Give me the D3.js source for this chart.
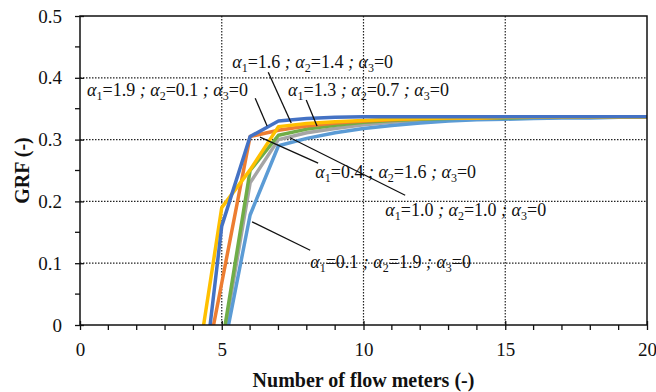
<!DOCTYPE html>
<html>
<head>
<meta charset="utf-8">
<script src="https://cdn.jsdelivr.net/npm/d3@7/dist/d3.min.js"></script>
<style>
    html, body { margin: 0; padding: 0; background: #fff; }
    svg { display: block; }
    text { font-family: "Liberation Serif", "Times New Roman", serif; fill: #111; }
</style>
</head>
<body>
<svg id="chart" width="656" height="392"></svg>
<script>

// number of flow meters (x); null = no point
var meters = [4, 5, 6, 7, 8, 9, 10, 11, 12, 13, 14, 15, 16, 17, 18, 19, 20];

var grfA19 = [-0.230, 0.160, 0.305, 0.330, 0.334, 0.336, 0.337, 0.337, 0.337, 0.337, 0.337, 0.337, 0.337, 0.337, 0.337, 0.337, 0.337];
var grfA04 = [-0.168, 0.068, 0.305, 0.315, 0.322, 0.327, 0.330, 0.332, 0.334, 0.335, 0.335, 0.336, 0.336, 0.336, 0.336, 0.336, 0.336];
var grfA10 = [null, -0.040, 0.230, 0.300, 0.311, 0.318, 0.324, 0.328, 0.331, 0.333, 0.334, 0.335, 0.335, 0.336, 0.336, 0.336, 0.336];
var grfA16 = [-0.107, 0.190, 0.251, 0.321, 0.326, 0.329, 0.331, 0.333, 0.334, 0.335, 0.335, 0.336, 0.336, 0.336, 0.336, 0.336, 0.336];
var grfA01 = [null, -0.056, 0.178, 0.290, 0.302, 0.311, 0.318, 0.323, 0.327, 0.330, 0.332, 0.333, 0.334, 0.335, 0.335, 0.336, 0.336];
var grfA13 = [null, -0.034, 0.250, 0.307, 0.317, 0.323, 0.328, 0.331, 0.333, 0.334, 0.335, 0.335, 0.336, 0.336, 0.336, 0.336, 0.336];

var alpha1 = ["1.9", "0.4", "1.0", "1.6", "0.1", "1.3"];
var alpha2 = ["0.1", "1.6", "1.0", "1.4", "1.9", "0.7"];
var alpha3 = ["0", "0", "0", "0", "0", "0"];

var xTicks = [0, 5, 10, 15, 20];
var yTicks = [0, 0.1, 0.2, 0.3, 0.4, 0.5];

(function () {

    var margin = { left: 80, right: 9, top: 16, bottom: 67 },
        W = 656, H = 392,
        w = W - margin.left - margin.right,
        h = H - margin.top - margin.bottom;

    var colors = ["#4472C4", "#ED7D31", "#A5A5A5", "#FFC000", "#5B9BD5", "#70AD47"];

    var series = [grfA19, grfA04, grfA10, grfA16, grfA01, grfA13].map(function (vals, i) {
        return {
            color: colors[i],
            a1: alpha1[i], a2: alpha2[i], a3: alpha3[i],
            values: vals.map(function (v, j) { return { x: meters[j], y: v }; })
        };
    });

    // label anchor + leader in data units (x meters, y GRF)
    var notes = [
        { s: 0, tx: 0.25, ty: 0.370, l: [6.18, 0.367, 6.60, 0.322] },
        { s: 3, tx: 5.37, ty: 0.416, l: [6.64, 0.409, 7.45, 0.327] },
        { s: 5, tx: 7.34, ty: 0.370, l: [7.98, 0.364, 8.36, 0.322] },
        { s: 1, tx: 8.30, ty: 0.238, l: [6.35, 0.304, 8.40, 0.262] },
        { s: 2, tx: 10.77, ty: 0.176, l: [7.41, 0.303, 11.47, 0.210] },
        { s: 4, tx: 8.12, ty: 0.092, l: [6.07, 0.167, 8.12, 0.121] }
    ];

    var svg = d3.select("#chart");

    var x = d3.scaleLinear().domain([0, 20]).range([0, w]);
    var y = d3.scaleLinear().domain([0, 0.5]).range([h, 0]);

    var g = svg.append("g")
        .attr("transform", "translate(" + margin.left + "," + margin.top + ")");

    g.append("clipPath").attr("id", "plot")
        .append("rect").attr("width", w).attr("height", h);

    // dotted grid
    g.append("g")
        .selectAll("line.gx")
        .data(xTicks.slice(1, -1))
        .enter().append("line")
        .attr("x1", x).attr("x2", x)
        .attr("y1", 0).attr("y2", h)
        .attr("stroke", "#222").attr("stroke-width", 1.2)
        .attr("stroke-dasharray", "1.5,1.5");

    g.append("g")
        .selectAll("line.gy")
        .data(yTicks.slice(1, -1))
        .enter().append("line")
        .attr("x1", 0).attr("x2", w)
        .attr("y1", y).attr("y2", y)
        .attr("stroke", "#222").attr("stroke-width", 1.2)
        .attr("stroke-dasharray", "1.5,1.5");

    // curves
    var line = d3.line()
        .defined(function (d) { return d.y !== null; })
        .x(function (d) { return x(d.x); })
        .y(function (d) { return y(d.y); });

    g.append("g")
        .attr("clip-path", "url(#plot)")
        .selectAll("path")
        .data([series[2], series[4], series[5], series[1], series[3], series[0]])
        .enter().append("path")
        .attr("d", function (d) { return line(d.values); })
        .attr("fill", "none")
        .attr("stroke", function (d) { return d.color; })
        .attr("stroke-width", 3.5)
        .attr("stroke-linejoin", "round");

    // frame
    g.append("rect")
        .attr("width", w).attr("height", h)
        .attr("fill", "none").attr("stroke", "#111").attr("stroke-width", 1.5);

    // axes
    var yAxis = d3.axisLeft(y).tickValues(yTicks).tickSize(6).tickPadding(12)
        .tickFormat(function (d) { return d === 0 ? "0" : d3.format(".1f")(d); });

    var xAxis = d3.axisBottom(x).tickValues(xTicks).tickSize(6).tickPadding(12);

    var ya = g.append("g").call(yAxis);
    var xa = g.append("g").attr("transform", "translate(0," + h + ")").call(xAxis);

    [ya, xa].forEach(function (a) {
        a.select(".domain").remove();
        a.selectAll("line").attr("stroke", "#111").attr("stroke-width", 1.3);
        a.selectAll("text")
            .style("font-family", "'Liberation Serif', serif")
            .style("font-size", "19px")
            .attr("fill", "#111");
    });

    // inner part of major ticks
    ya.selectAll(".tick line").attr("x2", -5).attr("x1", 4);
    xa.selectAll(".tick line").attr("y2", 5).attr("y1", -4);

    // minor ticks
    g.append("g")
        .selectAll("line")
        .data(d3.range(0.05, 0.5, 0.1))
        .enter().append("line")
        .attr("x1", -5).attr("x2", 0)
        .attr("y1", y).attr("y2", y)
        .attr("stroke", "#111").attr("stroke-width", 1.3);

    g.append("g")
        .selectAll("line")
        .data(d3.range(1, 20).filter(function (v) { return v % 5 !== 0; }))
        .enter().append("line")
        .attr("y1", h).attr("y2", h + 5)
        .attr("x1", x).attr("x2", x)
        .attr("stroke", "#111").attr("stroke-width", 1.3);

    // titles
    g.append("text")
        .attr("x", w / 2).attr("y", h + 62)
        .attr("text-anchor", "middle")
        .style("font-size", "20px").style("font-weight", "bold")
        .text("Number of flow meters (-)");

    g.append("text")
        .attr("transform", "translate(" + (-51) + "," + (h / 2) + ") rotate(-90)")
        .attr("text-anchor", "middle")
        .style("font-size", "20px").style("font-weight", "bold")
        .text("GRF (-)");

    // annotations
    var ann = g.append("g");

    notes.forEach(function (n) {

        var s = series[n.s];

        ann.append("line")
            .attr("x1", x(n.l[0])).attr("y1", y(n.l[1]))
            .attr("x2", x(n.l[2])).attr("y2", y(n.l[3]))
            .attr("stroke", "#111").attr("stroke-width", 1.3);

        var t = ann.append("text")
            .attr("x", x(n.tx)).attr("y", y(n.ty))
            .style("font-size", "18px");

        [["1", s.a1], ["2", s.a2], ["3", s.a3]].forEach(function (p, i) {
            t.append("tspan").text((i ? " ; " : "") + "\u03b1").style("font-style", "italic");
            t.append("tspan").text(p[0]).attr("dy", 4).style("font-size", "12px");
            t.append("tspan").text("=" + p[1]).attr("dy", -4);
        });
    });

})();

</script>
</body>
</html>
